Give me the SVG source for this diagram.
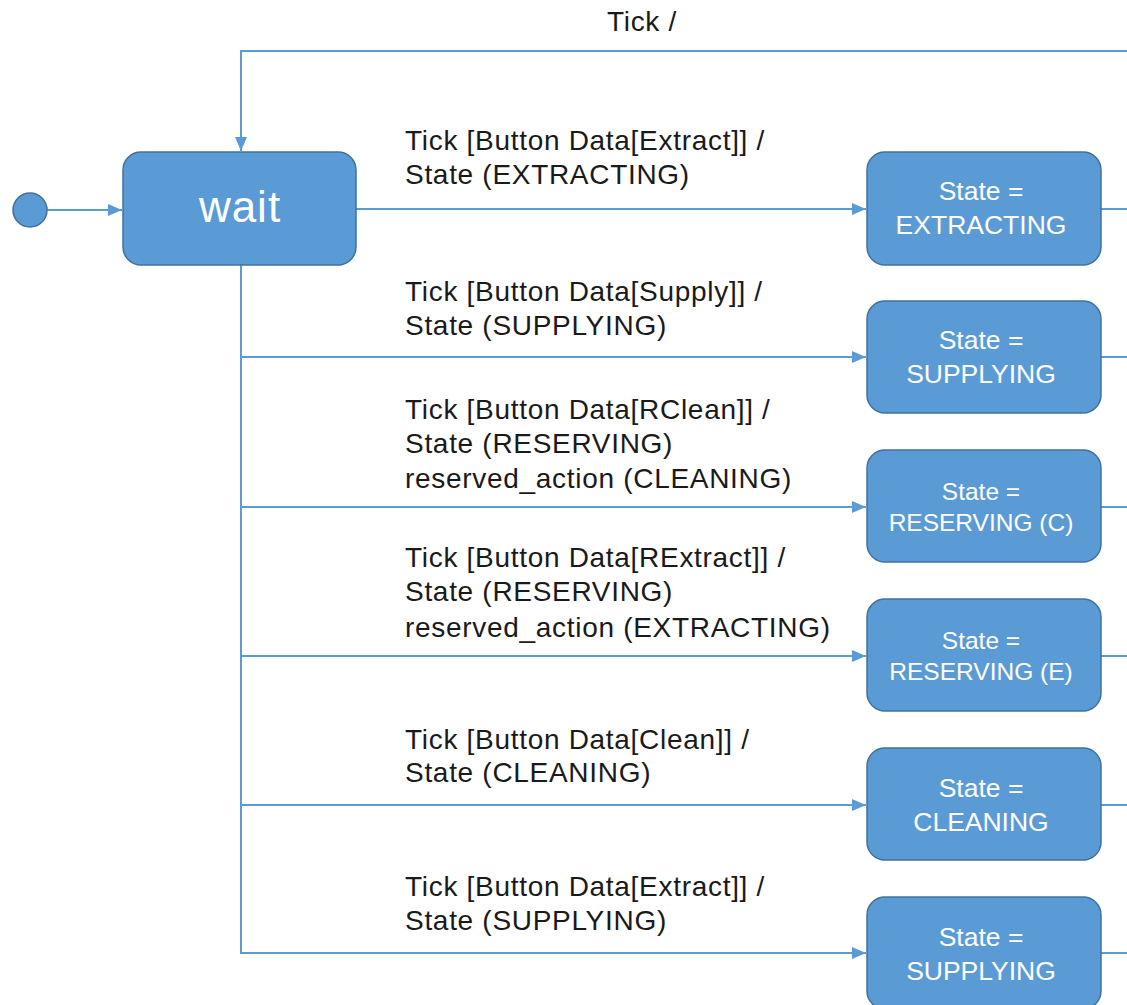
<svg xmlns="http://www.w3.org/2000/svg" width="1127" height="1005" viewBox="0 0 1127 1005">
<style>
.st{fill:#5B9BD5;stroke:#41719C;stroke-width:1.5}
.ln{fill:none;stroke:#5B9BD5;stroke-width:2}
.lb{font-family:"Liberation Sans",Arial,sans-serif;font-size:28px;letter-spacing:0.7px;fill:#1a1a1a}
.bt{font-family:"Liberation Sans",Arial,sans-serif;font-size:26.5px;fill:#fff;text-anchor:middle}
.bs{font-family:"Liberation Sans",Arial,sans-serif;font-size:24.5px;fill:#fff;text-anchor:middle}
</style>
<defs>
<marker id="ah" markerWidth="14" markerHeight="12" refX="14" refY="6" orient="auto" markerUnits="userSpaceOnUse">
<path d="M0,0 L14,6 L0,12 z" fill="#5B9BD5"/>
</marker>
</defs>
<rect width="1127" height="1005" fill="#fff"/>
<g id="connectors">
<line class="ln" x1="47" y1="210" x2="122" y2="210" marker-end="url(#ah)"/>
<polyline class="ln" points="1127,51 241,51 241,151" marker-end="url(#ah)"/>
<line class="ln" x1="356" y1="209" x2="866" y2="209" marker-end="url(#ah)"/>
<line class="ln" x1="241" y1="265" x2="241" y2="954"/>
<line class="ln" x1="240" y1="357" x2="866" y2="357" marker-end="url(#ah)"/>
<line class="ln" x1="240" y1="507" x2="866" y2="507" marker-end="url(#ah)"/>
<line class="ln" x1="240" y1="656" x2="866" y2="656" marker-end="url(#ah)"/>
<line class="ln" x1="240" y1="805" x2="866" y2="805" marker-end="url(#ah)"/>
<line class="ln" x1="240" y1="953" x2="866" y2="953" marker-end="url(#ah)"/>
<line class="ln" x1="1101" y1="209" x2="1127" y2="209"/>
<line class="ln" x1="1101" y1="357" x2="1127" y2="357"/>
<line class="ln" x1="1101" y1="507" x2="1127" y2="507"/>
<line class="ln" x1="1101" y1="656" x2="1127" y2="656"/>
<line class="ln" x1="1101" y1="805" x2="1127" y2="805"/>
<line class="ln" x1="1101" y1="953" x2="1127" y2="953"/>
<text class="lb" x="642" y="31" text-anchor="middle">Tick /</text>
<text class="lb"><tspan x="405" y="150">Tick [Button Data[Extract]] /</tspan><tspan x="405" y="184">State (EXTRACTING)</tspan></text>
<text class="lb"><tspan x="405" y="301">Tick [Button Data[Supply]] /</tspan><tspan x="405" y="335">State (SUPPLYING)</tspan></text>
<text class="lb"><tspan x="405" y="419">Tick [Button Data[RClean]] /</tspan><tspan x="405" y="453">State (RESERVING)</tspan><tspan x="405" y="488">reserved_action (CLEANING)</tspan></text>
<text class="lb"><tspan x="405" y="567">Tick [Button Data[RExtract]] /</tspan><tspan x="405" y="601">State (RESERVING)</tspan><tspan x="405" y="637">reserved_action (EXTRACTING)</tspan></text>
<text class="lb"><tspan x="405" y="749">Tick [Button Data[Clean]] /</tspan><tspan x="405" y="782">State (CLEANING)</tspan></text>
<text class="lb"><tspan x="405" y="896">Tick [Button Data[Extract]] /</tspan><tspan x="405" y="930">State (SUPPLYING)</tspan></text>
</g>
<g id="initial"><circle cx="30" cy="210" r="17" class="st"/></g>
<g id="wait">
<rect x="123" y="152" width="233" height="113" rx="18" class="st"/>
<text class="bt" x="240" y="222" style="font-size:44px;letter-spacing:1px">wait</text>
</g>
<g id="s-extracting">
<rect x="867" y="152" width="234" height="113" rx="18" class="st"/>
<text class="bt"><tspan x="981" y="200">State =</tspan><tspan x="981" y="234">EXTRACTING</tspan></text>
</g>
<g id="s-supplying">
<rect x="867" y="301" width="234" height="112" rx="18" class="st"/>
<text class="bt"><tspan x="981" y="349">State =</tspan><tspan x="981" y="383">SUPPLYING</tspan></text>
</g>
<g id="s-reserving-c">
<rect x="867" y="450" width="234" height="112" rx="18" class="st"/>
<text class="bs"><tspan x="981" y="500">State =</tspan><tspan x="981" y="531">RESERVING (C)</tspan></text>
</g>
<g id="s-reserving-e">
<rect x="867" y="599" width="234" height="112" rx="18" class="st"/>
<text class="bs"><tspan x="981" y="649">State =</tspan><tspan x="981" y="680">RESERVING (E)</tspan></text>
</g>
<g id="s-cleaning">
<rect x="867" y="748" width="234" height="112" rx="18" class="st"/>
<text class="bt"><tspan x="981" y="797">State =</tspan><tspan x="981" y="831">CLEANING</tspan></text>
</g>
<g id="s-supplying2">
<rect x="867" y="897" width="234" height="112" rx="18" class="st"/>
<text class="bt"><tspan x="981" y="946">State =</tspan><tspan x="981" y="980">SUPPLYING</tspan></text>
</g>
</svg>
